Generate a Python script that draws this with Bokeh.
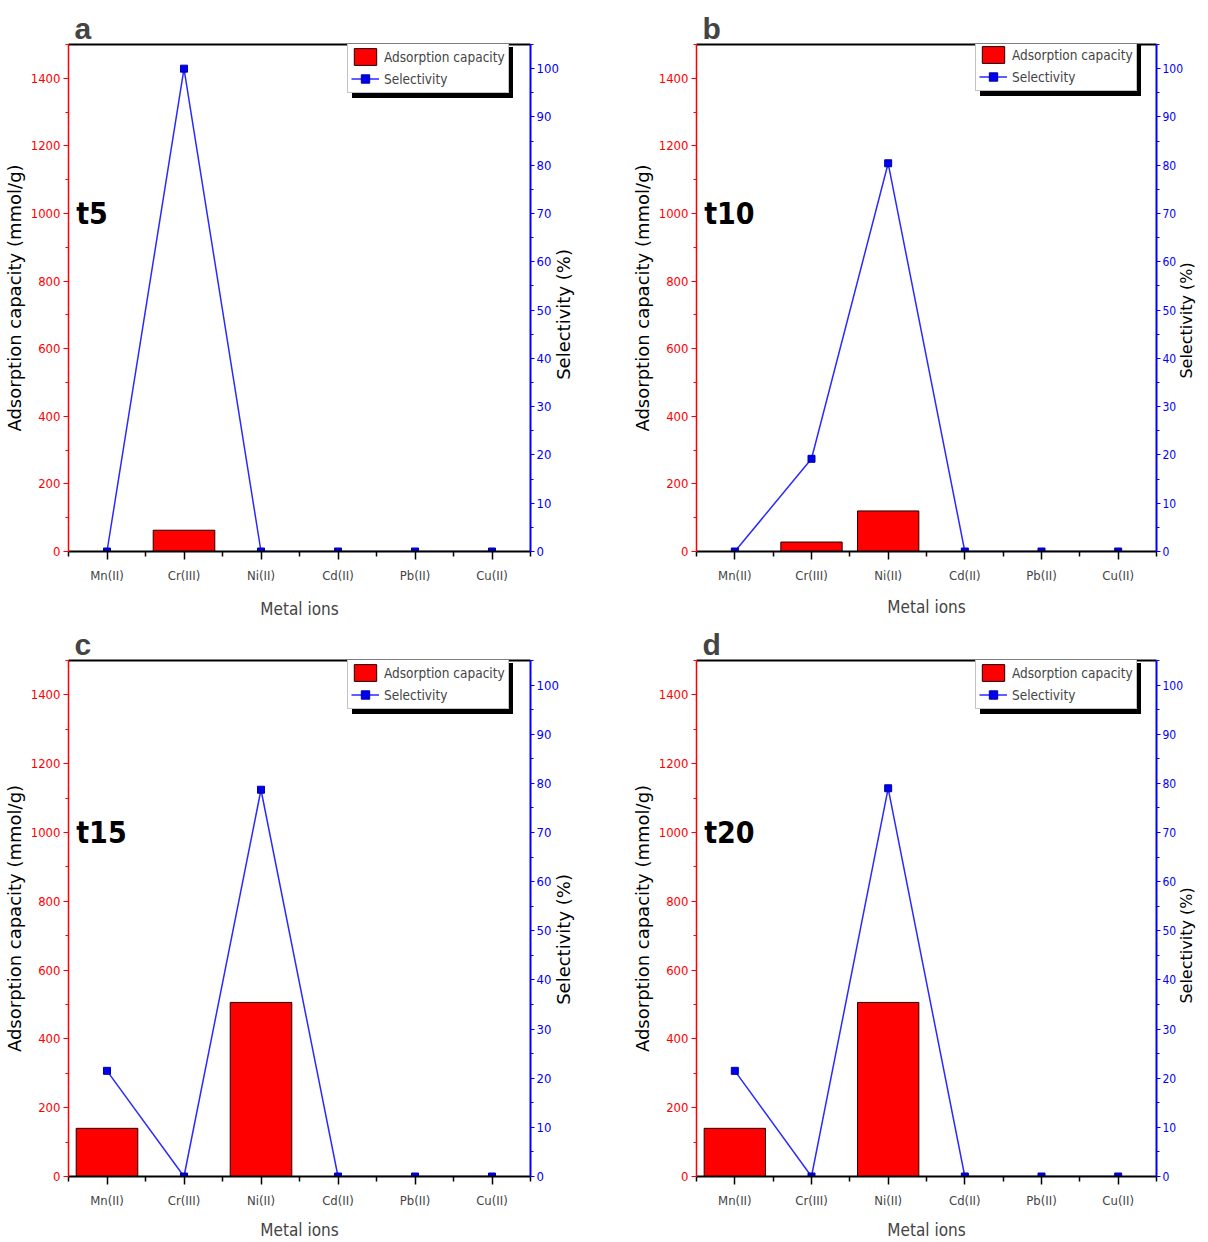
import math
from bokeh.plotting import figure
from bokeh.models import (Range1d, LinearAxis, FixedTicker, SingleIntervalTicker, Legend,
                          LegendItem, Label, ColumnDataSource)
from bokeh.layouts import gridplot
from bokeh.embed import file_html
from bokeh.resources import INLINE

# ---------------- data ----------------
metals = ["Mn(II)", "Cr(III)", "Ni(II)", "Cd(II)", "Pb(II)", "Cu(II)"]
panel_letters = ["a", "b", "c", "d"]
panel_times = ["t5", "t10", "t15", "t20"]

cap_t5 = [0, 63, 0, 0, 0, 0]
cap_t10 = [0, 28, 120, 0, 0, 0]
cap_t15 = [140, 0, 506, 0, 0, 0]
cap_t20 = [140, 0, 506, 0, 0, 0]

sel_t5 = [0, 100, 0, 0, 0, 0]
sel_t10 = [0, 19.2, 80.4, 0, 0, 0]
sel_t15 = [21.5, 0, 78.7, 0, 0, 0]
sel_t20 = [21.5, 0, 79.0, 0, 0, 0]

caps = [cap_t5, cap_t10, cap_t15, cap_t20]
sels = [sel_t5, sel_t10, sel_t15, sel_t20]

NARROW = "DejaVu Sans Condensed, Liberation Sans, sans-serif"
REG = "DejaVu Sans"

CAP_MAX = 1500
SEL_MAX = 105

# borders (left, right, top, bottom) per panel
borders = [(67, 74, 44, 70), (92, 50, 44, 68), (67, 74, 39, 66), (92, 50, 39, 66)]
# right-hand title font size, number of lifting non-breaking spaces, tick label size
right_style = [(18, 30, 13, 2), (16, 34, 12, 0), (18, 30, 13, 2), (16, 34, 12, 0)]
W, H = 604, 621


def make_panel(letter, tlabel, cap, sel, bl, br, bt, bb, rstyle):
    rfs, npad, rtick, rstand = rstyle
    fh = H - bt - bb
    p = figure(width=W, height=H, x_range=Range1d(0.5, len(metals) + 0.5),
               y_range=Range1d(0, CAP_MAX), output_backend="svg", toolbar_location=None,
               min_border_left=bl, min_border_right=br, min_border_top=bt,
               min_border_bottom=bb, x_axis_type=None, y_axis_type=None, title=letter)
    p.xgrid.visible = False
    p.ygrid.visible = False
    p.outline_line_color = None
    p.background_fill_color = "white"
    p.border_fill_color = "white"
    p.title.text_font = "Liberation Sans"
    p.title.text_font_size = "30px"
    p.title.text_font_style = "bold"
    p.title.offset = 6
    p.title.standoff = 0
    p.extra_y_ranges = {"sel": Range1d(0, SEL_MAX)}

    xs = list(range(1, len(metals) + 1))
    src = ColumnDataSource(dict(x=xs, cap=cap, sel=sel))

    # axes
    xaxis = LinearAxis(ticker=FixedTicker(ticks=xs, minor_ticks=[i + 0.5 for i in range(0, len(metals) + 1)]),
                       major_label_overrides={i: m for i, m in zip(xs, metals)},
                       axis_label="Metal ions")
    xaxis.axis_line_width = 2
    xaxis.axis_line_color = "black"
    xaxis.major_tick_out = 8
    xaxis.major_tick_in = 0
    xaxis.minor_tick_out = 5
    xaxis.minor_tick_in = 0
    xaxis.major_tick_line_width = 1.5
    xaxis.minor_tick_line_width = 1.5
    xaxis.major_label_text_font = NARROW
    xaxis.major_label_text_font_size = "13px"
    xaxis.major_label_standoff = 8
    xaxis.axis_label_text_font = NARROW
    xaxis.axis_label_text_font_size = "17px"
    xaxis.axis_label_text_font_style = "normal"
    xaxis.axis_label_standoff = bb - 57
    p.add_layout(xaxis, "below")

    top = LinearAxis(ticker=FixedTicker(ticks=[]), axis_line_width=2, axis_line_color="black",
                     major_tick_out=0, major_tick_in=0, minor_tick_out=0, minor_tick_in=0,
                     major_label_text_font_size="0px")
    p.add_layout(top, "above")

    red = "#FF0000"
    yl = LinearAxis(ticker=SingleIntervalTicker(interval=200, num_minor_ticks=2),
                    axis_label="Adsorption capacity (mmol/g)")
    yl.axis_line_color = red
    yl.axis_line_width = 1.5
    yl.major_tick_line_color = red
    yl.minor_tick_line_color = red
    yl.major_tick_out = 5
    yl.major_tick_in = 0
    yl.minor_tick_out = 3
    yl.minor_tick_in = 0
    yl.major_label_text_color = red
    yl.major_label_text_font = NARROW
    yl.major_label_text_font_size = "13px"
    yl.major_label_standoff = 3
    yl.axis_label_text_font = REG
    yl.axis_label_text_font_size = "18px"
    yl.axis_label_text_font_style = "normal"
    yl.axis_label_text_color = "black"
    yl.axis_label_standoff = 3
    p.add_layout(yl, "left")

    # the right-hand title is anchored at the axis start and reads upwards;
    # non-breaking spaces lift it to the same height as in the original figure
    blue = "#0000FF"
    yr = LinearAxis(y_range_name="sel", ticker=SingleIntervalTicker(interval=10, num_minor_ticks=2),
                    axis_label="\u00a0" * npad + "Selectivity (%)")
    yr.axis_line_color = blue
    yr.axis_line_width = 2
    yr.major_tick_line_color = blue
    yr.minor_tick_line_color = blue
    yr.major_tick_out = 4
    yr.major_tick_in = 0
    yr.minor_tick_out = 3
    yr.minor_tick_in = 0
    yr.major_label_text_color = blue
    yr.major_label_text_font = NARROW
    yr.major_label_text_font_size = "%dpx" % rtick
    yr.major_label_standoff = 2
    yr.axis_label_text_font = REG
    yr.axis_label_text_font_size = "%dpx" % rfs
    yr.axis_label_text_font_style = "normal"
    yr.axis_label_text_color = "black"
    yr.axis_label_standoff = rstand
    yr.axis_label_orientation = math.pi / 2
    yr.axis_label_align = "start"
    p.add_layout(yr, "right")

    # glyphs
    bars = p.vbar(x="x", top="cap", bottom=0, width=0.8, source=src,
                  fill_color="#FF0000", line_color="#220000", line_width=1)
    line = p.line(x="x", y="sel", source=src, y_range_name="sel",
                  line_color="#2a2aff", line_width=1.5)
    pts = p.scatter(x="x", y="sel", source=src, y_range_name="sel", marker="square",
                    size=7, fill_color="#0000ee", line_color="#0000aa")
    # empty black renderer, only used for drawing the legend's drop shadow
    shadow_r = p.scatter(x=[], y=[], marker="square", fill_color="black", line_color="black")

    p.add_layout(Label(x=0.6, y=1000, text=tlabel, text_font=NARROW, text_font_size="30px",
                       text_font_style="bold", text_baseline="middle", text_color="black"))

    # legend + shadow
    lx, lh = 279, 49
    ly = fh - lh
    off = 5
    common = dict(glyph_width=28, glyph_height=21, label_standoff=5, padding=3, spacing=1,
                  margin=0, label_text_font=NARROW, label_text_font_size="13.5px",
                  label_width=120, label_height=21)
    shadow = Legend(items=[LegendItem(label=" ", renderers=[shadow_r]),
                           LegendItem(label=" ", renderers=[shadow_r])],
                    location=(lx + off, ly - off), border_line_color="black",
                    background_fill_color="black", background_fill_alpha=1.0,
                    label_text_color="black", **common)
    p.add_layout(shadow)
    legend = Legend(items=[LegendItem(label="Adsorption capacity", renderers=[bars]),
                           LegendItem(label="Selectivity", renderers=[line, pts])],
                    location=(lx, ly), border_line_color="#888888", border_line_width=1,
                    background_fill_color="white", background_fill_alpha=1.0, **common)
    p.add_layout(legend)
    return p


panels = []
for i in range(4):
    bl, br, bt, bb = borders[i]
    panels.append(make_panel(panel_letters[i], panel_times[i], caps[i], sels[i],
                             bl, br, bt, bb, right_style[i]))

grid = gridplot([[panels[0], panels[1]], [panels[2], panels[3]]], toolbar_location=None)

open("out.html", "w").write(file_html(grid, INLINE))
